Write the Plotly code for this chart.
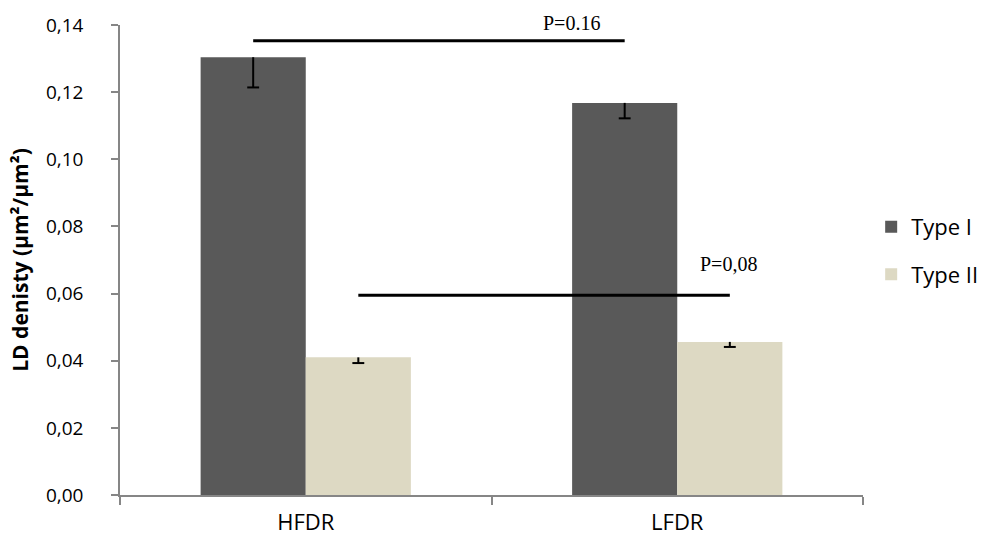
import plotly.graph_objects as go

# ---- data ----
categories = ["HFDR", "LFDR"]
series_names = ["Type I", "Type II"]
type1_values = [0.1304, 0.1168]
type2_values = [0.0410, 0.0456]
type1_err_minus = [0.0090, 0.0046]
type2_err_minus = [0.0017, 0.0015]
sig_lines = [  # (series index, y level, label)
    (0, 0.1353, "P=0.16"),
    (1, 0.0595, "P=0,08"),
]
y_ticks = [0.00, 0.02, 0.04, 0.06, 0.08, 0.10, 0.12, 0.14]

colors = ["#595959", "#DDD9C3"]
bargap = 0.434
bar_w = (1 - bargap) / 2
offsets = [-bar_w / 2, bar_w / 2]
xs = list(range(len(categories)))

values = [type1_values, type2_values]
errs = [type1_err_minus, type2_err_minus]

fig = go.Figure()
for k in range(2):
    fig.add_trace(go.Bar(
        x=xs, y=values[k], name=series_names[k],
        marker=dict(color=colors[k], line=dict(width=0)),
        legendgroup=series_names[k],
    ))

# minus-only error bars drawn as whiskers
cap = 0.016
for k in range(2):
    wx, wy = [], []
    for i, (v, e) in enumerate(zip(values[k], errs[k])):
        cx = xs[i] + offsets[k]
        wx += [cx, cx, None, cx - cap, cx + cap, None]
        wy += [v, v - e, None, v - e, v - e, None]
    fig.add_trace(go.Scatter(x=wx, y=wy, mode="lines",
                             line=dict(color="black", width=2),
                             showlegend=False, hoverinfo="skip"))

# significance lines connecting same-type bars
text_pos = [(0.715, 18), (1.137, 31)]
for (k, yv, label), (tx, ys) in zip(sig_lines, text_pos):
    fig.add_shape(type="line", xref="x", yref="y",
                  x0=xs[0] + offsets[k], x1=xs[1] + offsets[k], y0=yv, y1=yv,
                  line=dict(color="black", width=3))
    fig.add_annotation(x=tx, y=yv, xref="x", yref="y", text=label,
                       showarrow=False, yanchor="middle", yshift=ys,
                       font=dict(family="Liberation Serif", size=20, color="black"))

axis_col = "#868686"
fig.update_layout(
    width=995, height=548,
    margin=dict(l=120, r=121, t=21, b=45),
    paper_bgcolor="white", plot_bgcolor="white",
    barmode="group", bargap=bargap, bargroupgap=0,
    separators=",.",
    font=dict(family="Open Sans", color="black"),
    showlegend=True,
    legend=dict(x=1.011, xanchor="left", y=0.615, yanchor="top",
                font=dict(size=22, family="Open Sans", color="black"),
                traceorder="grouped", tracegroupgap=16,
                bgcolor="rgba(0,0,0,0)"),
    xaxis=dict(range=[-0.5, 1.5], tickmode="array", tickvals=xs, ticktext=categories,
               ticks="", showline=True, linecolor=axis_col, linewidth=1.5,
               showgrid=False, zeroline=False, ticklabelstandoff=7,
               tickfont=dict(size=22, family="Open Sans", color="black"),
               minor=dict(tickmode="linear", tick0=-0.5, dtick=1, ticks="outside",
                          ticklen=8, tickcolor=axis_col, tickwidth=1.5, showgrid=False)),
    yaxis=dict(range=[0, 0.14], tickmode="array", tickvals=y_ticks, tickformat=".2f",
               ticks="outside", ticklen=7, tickcolor=axis_col, tickwidth=1.5,
               showline=True, linecolor=axis_col, linewidth=1.5,
               showgrid=False, zeroline=False, ticklabelstandoff=24,
               tickfont=dict(size=19, family="Open Sans", color="black"),
               title=dict(text="<b>LD denisty (µm²/µm²)</b>", standoff=12,
                          font=dict(size=21, family="Open Sans", color="black"))),
)

fig.write_html("out.html")
